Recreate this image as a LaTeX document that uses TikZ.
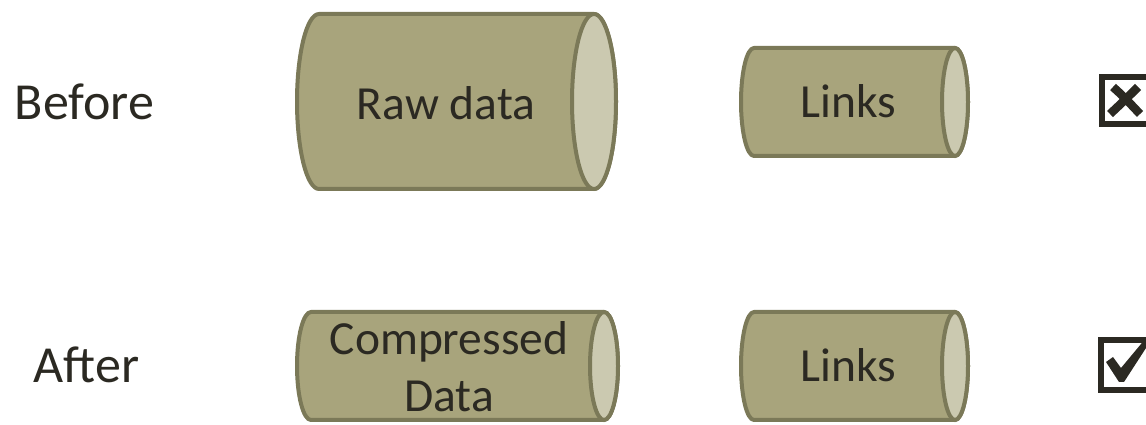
\documentclass[tikz,border=0pt]{standalone}
\usepackage{fontspec}
\setmainfont{Carlito}
\definecolor{drumfill}{HTML}{A8A47C}
\definecolor{drumcap}{HTML}{CBC9B0}
\definecolor{drumedge}{HTML}{7B7958}
\definecolor{inkdark}{HTML}{2B2922}
\tikzset{
  drumbody/.style={fill=drumfill, draw=drumedge, line width=4pt, line join=round},
  drumend/.style={fill=drumcap, draw=drumedge, line width=4pt},
  boxtext/.style={text=inkdark, font=\fontsize{47.5}{57}\selectfont, inner sep=0pt, align=center},
  rowlabel/.style={text=inkdark, font=\fontsize{52}{60}\selectfont, inner sep=0pt},
  tickbox/.style={draw=inkdark, line width=6pt},
}
% horizontal drum: #1 left x, #2 right x, #3 centre y, #4 half height, #5 end radius
\newcommand{\drum}[5]{%
  \draw[drumbody] (#1+#5,#3+#4) -- (#2-#5,#3+#4)
    arc[start angle=90, end angle=-90, x radius=#5, y radius=#4]
    -- (#1+#5,#3-#4)
    arc[start angle=270, end angle=90, x radius=#5, y radius=#4] -- cycle;
  \draw[drumend] (#2-#5,#3) ellipse[x radius=#5, y radius=#4];
}
\begin{document}
\begin{tikzpicture}[x=1pt, y=1pt]
\useasboundingbox (0,0) rectangle (1146,425);

% row labels
\node[rowlabel, anchor=base] (before) at (84.5,305) {Before};
\node[rowlabel, anchor=base] (after) at (86.5,42) {After};

% drums of the upper row
\drum{297}{616}{323.5}{87.5}{22}
\node[boxtext, anchor=base] (raw) at (446,305) {Raw data};
\drum{741}{968}{323}{54}{13}
\node[boxtext, anchor=base] (linksA) at (848.5,307) {Links};

% drums of the lower row
\drum{297}{618}{59}{54}{14}
\node[boxtext] (compressed) at (449,58) {Compressed\\Data};
\drum{741}{968}{59}{54}{13}
\node[boxtext, anchor=base] (linksB) at (848.5,43) {Links};

% crossed box
\node[inner sep=0pt, minimum width=56pt, minimum height=47pt, anchor=north west] (crossbox) at (1099,351) {};
\draw[tickbox] (1152,348) -- (1102,348) -- (1102,301) -- (1152,301);
\draw[inkdark, line width=8.5pt] (1113,338) .. controls (1124,328) .. (1140,311);
\draw[inkdark, line width=8.5pt] (1138,338) .. controls (1126,326) .. (1110,311);

% ticked box
\node[inner sep=0pt, minimum width=56pt, minimum height=50pt, anchor=north west] (tickedbox) at (1098,88) {};
\draw[tickbox] (1152,85) -- (1101,85) -- (1101,35) -- (1152,35);
\fill[inkdark] (1106,63) -- (1113,68) -- (1121,57) -- (1146,87) -- (1146,77) -- (1124,43) -- (1119,43) -- cycle;
\end{tikzpicture}
\end{document}
